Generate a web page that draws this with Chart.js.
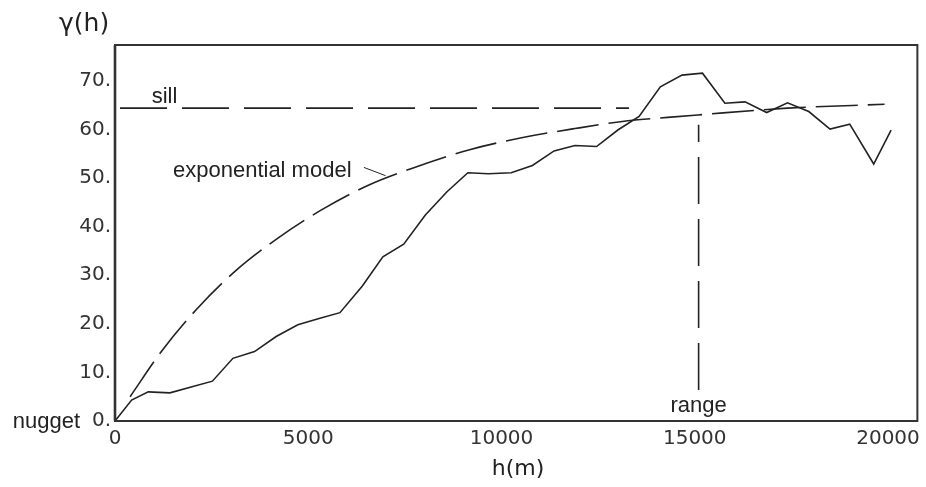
<!DOCTYPE html>
<html>
<head>
<meta charset="utf-8">
<script src="https://cdn.jsdelivr.net/npm/chart.js@4"></script>
<style>
  html, body { margin: 0; padding: 0; background: #fff; }
  #wrap { width: 926px; height: 487px; }
</style>
</head>
<body>
<div id="wrap"><canvas id="chart" width="926" height="487"></canvas></div>
<script>
// experimental semivariogram
const lagH = [0, 430, 860, 1420, 2520, 3050, 3610, 4170, 4730, 5280, 5820, 6400, 6930, 7470, 8030, 8590, 9130, 9660, 10250, 10800, 11360, 11900, 12460, 13010, 13560, 14110, 14670, 15200, 15780, 16300, 16860, 17400, 17950, 18500, 19010, 19630, 20080];
const gammaH = [0, 4.3, 6.0, 5.8, 8.2, 12.9, 14.3, 17.4, 19.8, 21.1, 22.3, 27.8, 33.8, 36.4, 42.4, 47.2, 51.1, 50.9, 51.1, 52.6, 55.6, 56.7, 56.5, 59.9, 62.7, 68.8, 71.2, 71.6, 65.4, 65.7, 63.5, 65.5, 63.7, 60.1, 61.1, 52.9, 59.9];

// fitted exponential model
const modelH = [390, 1200, 2100, 3090, 4170, 5330, 6570, 7860, 9150, 10520, 11900, 13270, 14300, 15080, 17400, 19910];
const modelG = [5.0, 14.3, 22.9, 30.7, 37.4, 43.4, 48.6, 52.5, 55.8, 58.3, 60.2, 61.8, 62.5, 63.0, 64.4, 65.2];

// sill, range and the label leader
const sillH = [130, 13300];
const sillG = [64.4, 64.4];
const rangeH = [15100, 15100];
const rangeG = [6.4, 61.0];
const leaderH = [6440, 7000];
const leaderG = [52.2, 50.5];

const xTicks = [0, 5000, 10000, 15000, 20000];
const yTicks = [0, 10, 20, 30, 40, 50, 60, 70];

const ink = '#222';
const tickFont = { family: "'DejaVu Sans', sans-serif", size: 20 };
const labelFont = "22px 'Liberation Sans', Arial, sans-serif";

const pts = (xs, ys) => xs.map((x, i) => ({ x: x, y: ys[i] }));

const lineSet = (data, dash, extra) => Object.assign({
  data: data,
  borderColor: ink,
  borderWidth: 1.6,
  borderDash: dash,
  pointRadius: 0,
  fill: false,
  tension: 0,
}, extra || {});

// frame + free text labels
const decor = {
  id: 'decor',
  afterDraw(chart) {
    const { ctx, chartArea: a, scales: { x, y } } = chart;
    ctx.save();
    ctx.strokeStyle = '#333';
    ctx.lineWidth = 2;
    ctx.strokeRect(a.left, a.top, a.right - a.left, a.bottom - a.top);
    ctx.lineWidth = 2.6;
    ctx.beginPath();
    ctx.moveTo(a.left, a.top);
    ctx.lineTo(a.left, a.bottom);
    ctx.stroke();

    ctx.fillStyle = ink;
    ctx.font = labelFont;
    ctx.textBaseline = 'alphabetic';
    ctx.textAlign = 'left';
    ctx.fillText('sill', x.getPixelForValue(950), y.getPixelForValue(65.5));
    ctx.fillText('exponential model', x.getPixelForValue(1500), y.getPixelForValue(50.3));
    ctx.textAlign = 'center';
    ctx.fillText('range', x.getPixelForValue(15100), y.getPixelForValue(1.9));
    ctx.textAlign = 'right';
    ctx.fillText('nugget', a.left - 35, a.bottom + 7);

    ctx.font = "25px 'DejaVu Sans', sans-serif";
    ctx.textAlign = 'left';
    ctx.fillText('\u03b3(h)', 59, 31);
    ctx.font = "22px 'DejaVu Sans', sans-serif";
    ctx.textAlign = 'center';
    ctx.fillText('h(m)', 518, a.bottom + 54);
    ctx.restore();
  }
};

new Chart(document.getElementById('chart'), {
  type: 'line',
  data: {
    datasets: [
      lineSet(pts(lagH, gammaH), []),
      lineSet(pts(modelH, modelG), [42, 10], { cubicInterpolationMode: 'monotone' }),
      lineSet(pts(sillH, sillG), [47, 15]),
      lineSet(pts(rangeH, rangeG), [47, 15]),
      lineSet(pts(leaderH, leaderG), [], { borderWidth: 1 }),
    ]
  },
  options: {
    responsive: false,
    animation: false,
    layout: { padding: { left: 0, top: 45, right: 5, bottom: 0 } },
    plugins: { legend: { display: false }, tooltip: { enabled: false } },
    scales: {
      x: {
        type: 'linear',
        min: 0,
        max: 20760,
        afterFit: (s) => { s.height = 66; },
        afterBuildTicks: (s) => { s.ticks = xTicks.map(v => ({ value: v })); },
        grid: { display: false, drawTicks: false },
        border: { display: false },
        ticks: { font: tickFont, color: '#333', padding: 6, maxRotation: 0, callback: v => String(v) },
      },
      y: {
        type: 'linear',
        min: 0,
        max: 77.4,
        afterFit: (s) => { s.width = 115; },
        afterBuildTicks: (s) => { s.ticks = yTicks.map(v => ({ value: v })); },
        grid: { display: false, drawTicks: false },
        border: { display: false },
        ticks: { font: tickFont, color: '#333', padding: 4, callback: v => v + '.' },
      }
    }
  },
  plugins: [decor]
});
</script>
</body>
</html>
